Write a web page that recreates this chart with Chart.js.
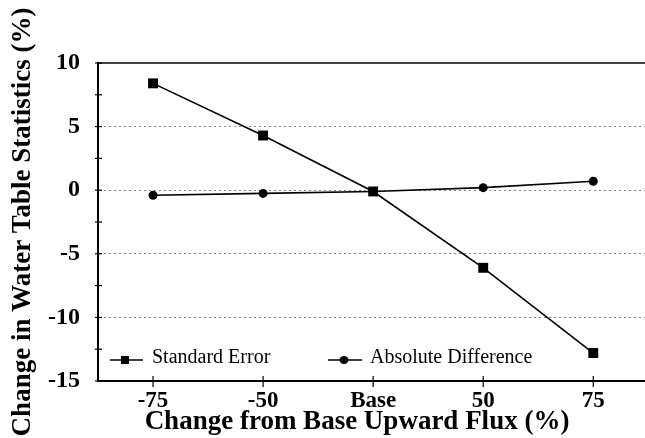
<!DOCTYPE html>
<html lang="en">
<head>
    <meta charset="UTF-8">
    <title>Change in Water Table Statistics</title>
    <script src="https://cdn.jsdelivr.net/npm/chart.js"></script>
    <style>
        html, body { margin: 0; padding: 0; background: #fff; overflow: hidden; }
        #chart { display: block; }
    </style>
</head>
<body>
    <canvas id="chart" width="645" height="438"></canvas>
    <script>
        // values
        const categories = ['-75', '-50', 'Base', '50', '75'];
        const standardError = [8.4, 4.3, -0.1, -6.1, -12.8];
        const absoluteDifference = [-0.4, -0.25, -0.1, 0.2, 0.7];
        const yTicks = [10, 5, 0, -5, -10, -15];
        const xTitle = 'Change from Base Upward Flux (%)';

        const serif = "'Liberation Serif', 'Times New Roman', serif";

        function toPoints(values) {
            return values.map((v, i) => ({ x: i, y: v }));
        }

        // top frame line, tick marks crossing the axes, x title and the in-plot legend
        const framePlugin = {
            id: 'frame',
            afterDraw(chart) {
                const ctx = chart.ctx;
                const area = chart.chartArea;
                const xs = chart.scales.x;
                const ys = chart.scales.y;
                ctx.save();
                ctx.strokeStyle = '#000';
                ctx.fillStyle = '#000';

                ctx.lineWidth = 1.5;
                ctx.beginPath();
                ctx.moveTo(area.left, area.top);
                ctx.lineTo(area.right, area.top);
                ctx.stroke();

                ctx.lineWidth = 1.2;
                for (let v = -15; v <= 10; v += 2.5) {
                    const y = ys.getPixelForValue(v);
                    ctx.beginPath();
                    ctx.moveTo(area.left - 3, y);
                    ctx.lineTo(area.left + 4, y);
                    ctx.stroke();
                }
                categories.forEach((c, i) => {
                    const x = xs.getPixelForValue(i);
                    ctx.beginPath();
                    ctx.moveTo(x, area.bottom - 5);
                    ctx.lineTo(x, area.bottom + 6);
                    ctx.stroke();
                });

                // x axis title (sits left of the plot centre in the figure)
                ctx.font = 'bold 27px ' + serif;
                ctx.textAlign = 'center';
                ctx.textBaseline = 'alphabetic';
                ctx.fillText(xTitle, 357, 429);

                // legend
                const ly = 360;
                ctx.lineWidth = 1.5;
                ctx.beginPath();
                ctx.moveTo(110, ly); ctx.lineTo(143, ly);
                ctx.moveTo(328, ly); ctx.lineTo(362, ly);
                ctx.stroke();
                ctx.fillRect(121, ly - 4, 8, 8);
                ctx.beginPath();
                ctx.ellipse(344, ly, 4.5, 4, 0, 0, Math.PI * 2);
                ctx.fill();
                ctx.font = '20px ' + serif;
                ctx.textBaseline = 'middle';
                ctx.textAlign = 'left';
                ctx.fillText('Standard Error', 152, ly - 2);
                ctx.fillText('Absolute Difference', 370, ly - 2);
                ctx.restore();
            }
        };

        new Chart(document.getElementById('chart'), {
            type: 'line',
            data: {
                datasets: [{
                    label: 'Standard Error',
                    data: toPoints(standardError),
                    borderColor: '#000',
                    backgroundColor: '#000',
                    borderWidth: 1.6,
                    pointStyle: 'rect',
                    pointRadius: 7,
                    pointBorderWidth: 0,
                    tension: 0
                }, {
                    label: 'Absolute Difference',
                    data: toPoints(absoluteDifference),
                    borderColor: '#000',
                    backgroundColor: '#000',
                    borderWidth: 1.6,
                    pointStyle: 'circle',
                    pointRadius: 4.5,
                    pointBorderWidth: 0,
                    tension: 0
                }]
            },
            options: {
                responsive: false,
                animation: false,
                devicePixelRatio: 1,
                layout: { autoPadding: false, padding: { top: 63, left: 0, right: 0, bottom: 0 } },
                plugins: {
                    legend: { display: false },
                    tooltip: { enabled: false }
                },
                scales: {
                    x: {
                        type: 'linear',
                        min: -0.5,
                        max: 4.47,
                        afterFit: s => { s.height = 57; s.paddingLeft = 0; s.paddingRight = 0; },
                        grid: { display: false },
                        border: { display: true, color: '#000', width: 2 },
                        ticks: {
                            stepSize: 1,
                            includeBounds: false,
                            maxRotation: 0,
                            padding: -2,
                            color: '#000',
                            font: { family: serif, size: 23, weight: 'bold' },
                            callback: v => categories[v] !== undefined ? categories[v] : ''
                        }
                    },
                    y: {
                        min: -15,
                        max: 10,
                        afterFit: s => { s.width = 98; },
                        afterBuildTicks: s => { s.ticks = yTicks.map(v => ({ value: v })); },
                        grid: {
                            drawTicks: false,
                            lineWidth: 1,
                            color: c => (c.tick && (c.tick.value === 10 || c.tick.value === -15)) ? 'rgba(0,0,0,0)' : '#888'
                        },
                        border: { display: true, color: '#000', width: 2, dash: [2, 3] },
                        ticks: {
                            padding: 18,
                            color: '#000',
                            font: { family: serif, size: 24, weight: 'bold' }
                        },
                        title: {
                            display: true,
                            text: 'Change in Water Table Statistics (%)',
                            color: '#000',
                            font: { family: serif, size: 27, weight: 'bold' },
                            padding: { top: 7, bottom: 0 }
                        }
                    }
                }
            },
            plugins: [framePlugin]
        });
    </script>
</body>
</html>
